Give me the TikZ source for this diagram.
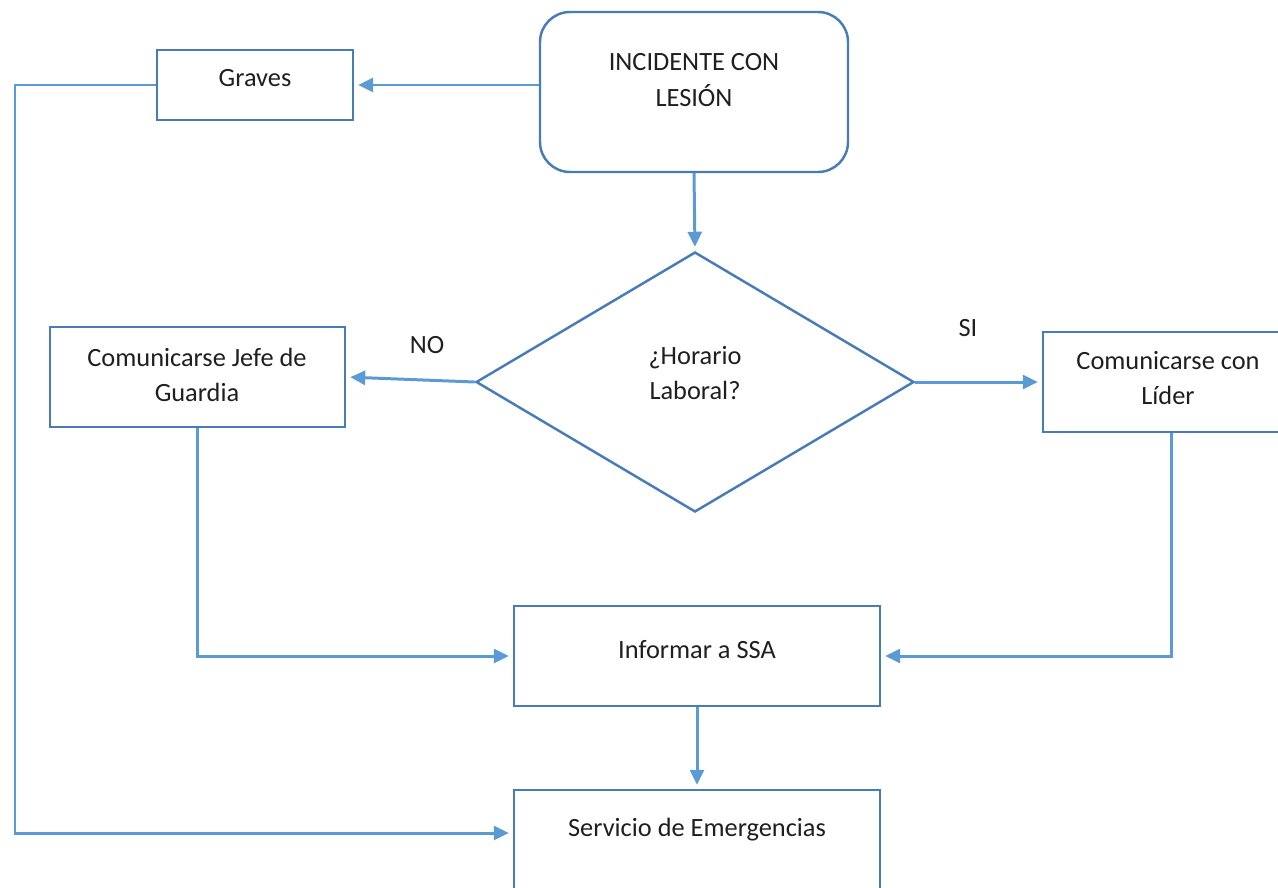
\documentclass[tikz,border=0pt]{standalone}
\usepackage{fontspec}
\setmainfont{Carlito}
\usetikzlibrary{shapes.geometric,arrows.meta}

\definecolor{linecol}{RGB}{91,155,213}
\definecolor{boxcol}{RGB}{72,124,184}

\tikzstyle{boxdecorate} = [draw=boxcol,line width=1.4pt,fill=white,inner sep=0pt]
\tikzstyle{txt} = [font=\fontsize{15}{20}\selectfont,text=black!88,align=center]
\tikzstyle{arrowdecorate} = [draw=linecol,line width=1.7pt,-{Triangle[length=3mm,width=2.8mm]},shorten >=0.8mm]

\begin{document}
\begin{tikzpicture}[x=0.2mm,y=-0.2mm]
      \useasboundingbox (0,0) rectangle (1278,887);

      %% boxes
      \foreach \nodename/\x/\y/\w/\h in {graves/255/85/196/70,
        jefe/197.5/377/295/100, lider/1171.5/382/257/100,
        ssa/697/656/366/100, emerg/697/845/366/110}
      {
        \node (\nodename) at (\x,\y) [boxdecorate,minimum width=\w*0.2mm,minimum height=\h*0.2mm] {};
      }
      \node (inc) at (694,92) [boxdecorate,rounded corners=6mm,minimum width=308*0.2mm,minimum height=160*0.2mm] {};
      \node (dia) at (695,382) [boxdecorate,diamond,minimum width=438*0.2mm,minimum height=260*0.2mm] {};

      %% texts
      \foreach \nodename/\x/\y/\text in {gravestxt/255/78/Graves,
        inctxt/694/80/{INCIDENTE CON\\LESIÓN}, diatxt/695/373/{¿Horario\\Laboral?},
        jefetxt/197/375/{Comunicarse Jefe de\\Guardia}, lidertxt/1168/378/{Comunicarse con\\Líder},
        ssatxt/697/650/Informar a SSA, emergtxt/697/830/Servicio de Emergencias,
        notxt/427/345/NO, sitxt/968/328/SI}
      {
        \node (\nodename) at (\x,\y) [txt] {\text};
      }

      %% edges or lines
      \coordinate (lft) at (15,833);
      \draw[arrowdecorate] (graves.east -| inc.west) -- (graves.east);
      \draw[arrowdecorate] (inc.south) -- (dia.north);
      \draw[arrowdecorate] (dia.west) -- (jefe.east);
      \draw[arrowdecorate] (dia.east) -- (lider.west);
      \draw[arrowdecorate] (jefe.south) |- (ssa.west);
      \draw[arrowdecorate] (lider.south) |- (ssa.east);
      \draw[arrowdecorate] (ssa.south) -- (emerg.north);
      \draw[arrowdecorate] (graves.west) -| (lft) -- (lft -| emerg.west);
    \end{tikzpicture}
\end{document}
